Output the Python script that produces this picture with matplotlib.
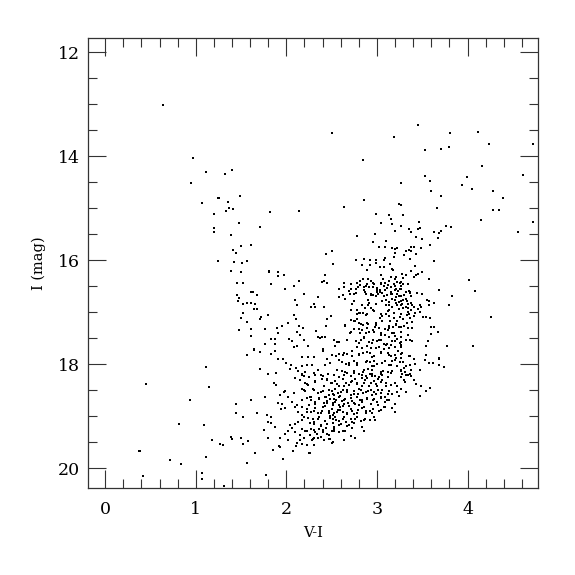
import matplotlib
matplotlib.use("Agg")
import matplotlib.pyplot as plt
from matplotlib.ticker import MultipleLocator

# (V-I, I) pairs, grouped by region of the CMD
bright_stars = [
    (0.635, 13.01), (0.97, 14.04), (1.11, 14.30), (1.40, 14.26), (1.325, 14.35), (0.945, 14.52),
    (1.25, 14.81), (1.26, 14.81), (1.49, 14.76),
    (2.507, 13.56), (3.19, 13.64), (2.85, 14.08),
    (3.45, 13.41), (3.81, 13.55), (4.12, 13.53), (3.53, 13.89), (3.71, 13.87), (3.80, 13.82),
    (4.24, 13.76), (4.72, 13.76), (4.16, 14.19), (3.53, 14.38), (3.585, 14.48), (3.26, 14.52),
    (3.99, 14.41), (4.61, 14.36), (3.94, 14.55), (4.05, 14.64), (3.60, 14.68), (3.71, 14.77),
    (4.28, 14.68), (4.39, 14.81),
]

blue_plume = [
    (1.074, 14.90), (1.36, 14.89), (1.37, 15.00), (1.41, 15.02), (1.33, 15.06), (1.20, 15.12),
    (1.48, 15.29), (1.20, 15.38), (1.20, 15.46), (1.385, 15.51), (1.50, 15.73), (1.41, 15.81),
    (1.44, 15.87), (1.245, 16.02), (1.42, 16.04), (1.51, 16.06), (1.57, 16.01), (1.39, 16.21),
    (1.50, 16.23), (1.46, 16.44), (1.52, 16.44), (1.45, 16.66), (1.48, 16.73), (1.47, 16.79),
    (1.52, 16.85), (1.57, 16.82), (1.525, 17.02), (1.50, 17.11), (1.57, 17.19), (1.48, 17.34),
    (1.565, 17.83), (1.11, 18.05), (0.45, 18.37), (1.145, 18.44), (0.94, 18.68), (1.44, 18.76),
    (1.44, 18.94), (1.52, 19.01), (0.82, 19.15), (1.09, 19.16), (1.18, 19.46), (1.27, 19.53),
    (1.30, 19.55), (1.385, 19.40), (1.40, 19.43), (1.50, 19.41), (1.52, 19.53), (1.58, 19.48),
    (0.37, 19.67), (0.38, 19.66), (1.115, 19.79), (0.71, 19.84), (0.835, 19.92), (1.57, 19.90),
    (0.42, 20.15), (1.07, 20.09), (1.065, 20.20), (1.31, 20.33),
    (1.78, 20.12), (1.65, 19.71), (1.85, 19.64), (1.92, 19.57), (1.93, 19.59), (1.96, 19.81),
    (2.07, 19.67), (2.11, 19.57),
]

red_branch = [
    (3.24, 14.92), (3.27, 14.94), (3.66, 14.99), (3.29, 15.14), (4.28, 15.04), (4.35, 15.03),
    (4.15, 15.22), (4.72, 15.27), (4.56, 15.45), (3.26, 15.34), (3.46, 15.26), (3.475, 15.38),
    (3.45, 15.40), (3.35, 15.40), (3.38, 15.46), (3.625, 15.45), (3.71, 15.43), (3.68, 15.48),
    (3.76, 15.34), (3.82, 15.37), (3.43, 15.56), (3.675, 15.58), (3.50, 15.60), (3.585, 15.71),
    (3.375, 15.74), (3.405, 15.74), (3.49, 15.77), (3.35, 15.81), (3.38, 15.83), (3.32, 15.83),
    (3.30, 15.90), (3.43, 15.88), (3.37, 15.98), (3.63, 16.01), (3.415, 16.11), (3.375, 16.21),
    (3.50, 16.22), (3.45, 16.26), (3.43, 16.29), (3.32, 16.28), (3.405, 16.32), (3.28, 16.26),
    (3.29, 16.35), (3.575, 16.36), (4.02, 16.38), (4.08, 16.60), (3.69, 16.57), (3.83, 16.68),
    (3.27, 16.42), (3.25, 16.43), (3.29, 16.46), (3.27, 16.55), (3.25, 16.56), (3.35, 16.59),
    (3.36, 16.62), (3.32, 16.62), (3.445, 16.63), (3.50, 16.64), (3.30, 16.67), (3.26, 16.68),
    (3.24, 16.69), (3.375, 16.69), (3.32, 16.74), (3.33, 16.78), (3.29, 16.76), (3.27, 16.78),
    (3.24, 16.80), (3.55, 16.77), (3.58, 16.78), (3.63, 16.82), (3.57, 16.86), (3.79, 16.86),
    (3.375, 16.83), (3.39, 16.86), (3.34, 16.85), (3.48, 16.87), (3.49, 16.89), (3.455, 16.93),
    (3.41, 16.89), (3.32, 16.90), (3.29, 16.91), (3.26, 16.86), (3.375, 16.95), (3.47, 17.00),
    (3.42, 17.02), (3.35, 17.04), (3.24, 16.93), (3.33, 17.06), (3.405, 17.08), (3.37, 17.11),
    (3.29, 17.13), (3.25, 17.09), (3.51, 17.10), (3.54, 17.09), (3.585, 17.11), (4.26, 17.10),
    (3.39, 17.19), (3.33, 17.20), (3.27, 17.28), (3.245, 17.28), (3.385, 17.31), (3.34, 17.30),
    (3.595, 17.28), (3.63, 17.28), (3.67, 17.38), (3.60, 17.42), (3.27, 17.48), (3.37, 17.53),
    (3.39, 17.55), (3.27, 17.58), (3.26, 17.62), (3.27, 17.67), (3.56, 17.56), (3.545, 17.65),
    (3.77, 17.65), (4.065, 17.65),
    (3.26, 17.81), (3.27, 17.87), (3.355, 17.85), (3.41, 17.89), (3.54, 17.83), (3.53, 17.91),
    (3.69, 17.87), (3.68, 17.90), (3.29, 17.96), (3.57, 17.97), (3.615, 17.97), (3.42, 17.99),
    (3.36, 18.02), (3.68, 18.02), (3.735, 18.06), (3.48, 18.10), (3.38, 18.11), (3.30, 18.07),
    (3.265, 18.11), (3.31, 18.15), (3.275, 18.19), (3.32, 18.20), (3.37, 18.19), (3.38, 18.23),
    (3.27, 18.25), (3.30, 18.31), (3.31, 18.34), (3.405, 18.31), (3.435, 18.37), (3.49, 18.42),
    (3.585, 18.45), (3.545, 18.52), (3.47, 18.60), (3.26, 18.48), (3.32, 18.54), (3.24, 18.60),
]

upper_middle = [
    (2.855, 14.84), (2.635, 14.97), (2.145, 15.05), (1.82, 15.08), (1.71, 15.36), (1.61, 15.71),
    (2.985, 15.12), (3.135, 15.13), (3.16, 15.20), (3.04, 15.29), (3.17, 15.31), (3.195, 15.44),
    (2.975, 15.50), (2.78, 15.53), (2.955, 15.65), (3.105, 15.64), (3.09, 15.74), (3.025, 15.74),
    (3.17, 15.77), (3.20, 15.79), (3.225, 15.77), (2.50, 15.82), (2.44, 15.89), (3.20, 15.87),
    (3.19, 15.94), (3.09, 15.96), (3.075, 16.00), (2.77, 16.00), (2.86, 15.98), (2.92, 16.00),
    (2.995, 16.00), (2.99, 16.05), (2.83, 16.10), (2.92, 16.10), (2.89, 16.18), (3.14, 16.07),
    (3.17, 16.16), (3.18, 16.19), (3.03, 16.13), (3.075, 16.13), (2.52, 16.07), (1.81, 16.20),
    (1.81, 16.23), (1.91, 16.23), (1.91, 16.31), (1.97, 16.28), (2.425, 16.28), (2.415, 16.40),
    (2.45, 16.44), (2.39, 16.42), (2.135, 16.40), (1.835, 16.45), (1.61, 16.62), (1.63, 16.62),
    (1.68, 16.67), (1.99, 16.55), (2.08, 16.50), (2.19, 16.64), (2.345, 16.70), (2.58, 16.55),
    (2.58, 16.71), (2.635, 16.51), (2.71, 16.56), (2.63, 16.67), (2.70, 16.65), (2.75, 16.64),
    (2.77, 16.55), (2.79, 16.51), (2.815, 16.47), (2.81, 16.40), (2.845, 16.37), (2.90, 16.36),
    (2.885, 16.45), (2.86, 16.52), (2.865, 16.62), (2.88, 16.65), (2.90, 16.76), (2.91, 16.52),
    (2.93, 16.40), (2.96, 16.44), (2.955, 16.51), (3.00, 16.53), (3.00, 16.58), (3.03, 16.57),
    (3.03, 16.62), (3.015, 16.65), (2.99, 16.69), (2.955, 16.67), (2.93, 16.64), (3.04, 16.29),
    (3.07, 16.37), (3.05, 16.45), (3.075, 16.49), (3.09, 16.43), (3.13, 16.40), (3.16, 16.32),
    (3.195, 16.37), (3.215, 16.32), (3.225, 16.42), (3.195, 16.49), (3.16, 16.52), (3.11, 16.53),
    (3.09, 16.58), (3.055, 16.63), (3.075, 16.69), (3.105, 16.76), (3.115, 16.66), (3.15, 16.61),
    (3.17, 16.65), (3.20, 16.58), (3.215, 16.55), (3.225, 16.64), (3.205, 16.70), (3.17, 16.74),
    (3.135, 16.81), (3.10, 16.87), (3.195, 16.76), (3.225, 16.86), (3.17, 16.89), (3.135, 16.95),
    (1.61, 16.82), (1.655, 16.84), (1.645, 16.93), (1.68, 16.93), (1.705, 17.13), (1.72, 17.09),
    (1.795, 17.06), (1.61, 17.32), (1.61, 17.45), (1.765, 17.33), (1.895, 17.30), (1.95, 17.27),
    (1.91, 17.39), (1.835, 17.52), (1.875, 17.52), (1.87, 17.61), (1.765, 17.61), (1.64, 17.71),
    (2.02, 17.21), (2.08, 17.05), (2.11, 17.13), (2.10, 16.76), (2.115, 16.86), (2.30, 16.84),
    (2.275, 16.89), (2.32, 16.89), (2.42, 16.90), (2.495, 17.07), (2.45, 17.13), (2.14, 17.27),
    (2.18, 17.31), (2.115, 17.38), (2.15, 17.43), (2.19, 17.53), (2.03, 17.52), (2.06, 17.56),
    (2.08, 17.66), (2.12, 17.65), (2.24, 17.64), (2.33, 17.36), (2.35, 17.47), (2.375, 17.50),
    (2.39, 17.47), (2.43, 17.48), (2.525, 17.54), (2.56, 17.57), (2.58, 17.57), (2.535, 17.64),
    (2.40, 17.71), (2.44, 17.26), (2.65, 17.26), (2.70, 17.40), (2.75, 17.33), (2.76, 17.17),
    (2.715, 17.15), (2.78, 17.04), (2.78, 17.13), (2.73, 16.84), (2.775, 16.96), (2.815, 17.01),
    (2.85, 17.01), (2.88, 17.05), (2.83, 16.87), (2.87, 16.92), (2.905, 16.87), (2.93, 16.92),
    (2.955, 16.96), (2.80, 17.20), (2.85, 17.24), (2.90, 17.22), (2.885, 17.31), (2.84, 17.34),
    (2.81, 17.40), (2.915, 17.38), (2.955, 17.35), (2.98, 17.28), (3.02, 17.31), (2.99, 17.20),
    (3.03, 17.12), (3.06, 17.08), (3.10, 17.04), (3.13, 17.08), (3.145, 17.16), (3.19, 17.12),
    (3.225, 17.16), (3.21, 17.24), (3.175, 17.28), (3.13, 17.30), (3.085, 17.32), (3.05, 17.39),
    (3.09, 17.44), (3.13, 17.48), (3.17, 17.40), (3.20, 17.45), (3.225, 17.51), (3.195, 17.56),
    (3.155, 17.62), (3.115, 17.61), (3.075, 17.61), (3.04, 17.53), (3.00, 17.56), (2.96, 17.53),
    (2.915, 17.58), (2.89, 17.65), (2.93, 17.69), (2.985, 17.68), (3.02, 17.67), (3.075, 17.70),
    (3.13, 17.69), (3.20, 17.66), (2.855, 17.48), (2.82, 17.53), (2.80, 17.60), (2.835, 17.69),
    (2.78, 17.66),
]

main_clump = [
    (1.64, 17.73), (1.71, 17.77), (1.83, 17.81), (1.87, 17.74), (2.40, 17.74), (2.50, 17.83),
    (2.58, 17.81), (2.62, 17.83), (2.67, 17.81), (2.72, 17.85), (2.80, 17.81), (2.85, 17.79),
    (2.92, 17.78), (2.95, 17.86), (3.05, 17.77), (3.12, 17.78), (3.15, 17.85), (3.20, 17.83),
    (3.23, 17.75),
    (1.91, 17.90), (1.96, 17.89), (2.00, 17.97), (2.17, 17.86), (2.24, 17.86), (2.30, 17.86),
    (2.45, 17.90), (2.55, 17.85), (2.58, 17.92), (2.61, 17.96), (2.66, 17.99), (2.69, 18.01),
    (2.75, 17.94), (2.78, 17.97), (2.89, 17.94), (2.92, 17.96), (2.94, 18.03), (2.97, 17.93),
    (3.00, 17.99), (3.06, 17.97), (3.09, 17.94), (3.13, 18.01), (3.17, 17.94), (3.20, 17.91),
    (2.05, 18.01), (2.11, 18.07), (2.17, 18.04), (2.23, 18.01), (2.28, 18.01), (2.43, 18.01),
    (2.48, 17.97),
    (1.71, 18.09), (1.80, 18.18), (1.89, 18.17), (2.04, 18.09), (2.13, 18.13), (2.17, 18.18),
    (2.19, 18.23), (2.21, 18.15), (2.30, 18.17), (2.35, 18.10), (2.38, 18.20), (2.46, 18.18),
    (2.56, 18.10), (2.61, 18.12), (2.67, 18.17), (2.71, 18.22), (2.75, 18.12), (2.80, 18.18),
    (2.85, 18.15), (2.90, 18.09), (2.92, 18.18), (2.95, 18.10), (2.98, 18.22), (3.04, 18.18),
    (3.07, 18.13), (3.12, 18.15), (3.17, 18.12), (3.22, 18.04), (2.88, 18.23), (3.02, 18.24),
    (2.83, 18.26),
    (1.86, 18.36), (1.89, 18.39), (2.10, 18.26), (2.15, 18.30), (2.21, 18.36), (2.24, 18.39),
    (2.32, 18.33), (2.39, 18.28), (2.45, 18.31), (2.50, 18.36), (2.54, 18.33), (2.58, 18.41),
    (2.62, 18.28), (2.66, 18.36), (2.69, 18.39), (2.73, 18.33), (2.78, 18.36), (2.83, 18.42),
    (2.87, 18.31), (2.93, 18.36), (2.97, 18.33), (3.00, 18.41), (3.06, 18.31), (3.10, 18.36),
    (3.15, 18.39), (3.20, 18.35), (3.22, 18.42),
    (1.93, 18.59), (1.97, 18.54), (1.99, 18.52), (2.02, 18.62), (2.08, 18.55), (2.17, 18.48),
    (2.21, 18.52), (2.26, 18.62), (2.30, 18.49), (2.35, 18.55), (2.40, 18.52), (2.44, 18.62),
    (2.47, 18.59), (2.50, 18.52), (2.53, 18.59), (2.57, 18.55), (2.59, 18.61), (2.63, 18.49),
    (2.67, 18.54), (2.71, 18.59), (2.75, 18.52), (2.79, 18.57), (2.82, 18.49), (2.85, 18.55),
    (2.90, 18.52), (2.94, 18.59), (2.97, 18.54), (3.01, 18.50), (3.05, 18.55), (3.09, 18.62),
    (3.13, 18.52), (3.17, 18.57), (3.22, 18.54), (1.61, 18.68), (1.76, 18.62),
    (1.91, 18.75), (1.95, 18.76), (2.06, 18.73), (2.12, 18.78), (2.17, 18.68), (2.23, 18.65),
    (2.27, 18.68), (2.32, 18.73), (2.36, 18.65), (2.41, 18.75), (2.45, 18.71), (2.48, 18.67),
    (2.52, 18.75), (2.55, 18.68), (2.58, 18.78), (2.61, 18.71), (2.65, 18.67), (2.68, 18.75),
    (2.72, 18.71), (2.76, 18.76), (2.81, 18.68), (2.84, 18.73), (2.89, 18.67), (2.93, 18.76),
    (2.96, 18.68), (3.00, 18.73), (3.04, 18.65), (3.09, 18.73), (3.13, 18.68), (3.20, 18.76),
    (1.68, 18.94),
    (1.94, 18.85), (1.98, 18.84), (2.10, 18.82), (2.13, 18.91), (2.17, 18.97), (2.23, 18.86),
    (2.27, 18.91), (2.32, 18.84), (2.35, 18.94), (2.39, 18.89), (2.43, 18.81), (2.47, 18.93),
    (2.50, 18.86), (2.52, 18.97), (2.56, 18.91), (2.59, 18.88), (2.63, 18.81), (2.67, 18.93),
    (2.71, 18.86), (2.75, 18.95), (2.79, 18.88), (2.83, 18.84), (2.88, 18.94), (2.92, 18.89),
    (2.96, 18.86), (3.04, 18.88), (3.09, 18.82), (3.17, 18.84), (3.20, 18.91), (1.79, 18.97),
    (1.83, 19.01),
    (1.83, 19.12), (1.88, 19.21), (2.04, 19.17), (2.10, 19.15), (2.13, 19.10), (2.17, 19.07),
    (2.24, 19.04), (2.26, 19.12), (2.31, 19.10), (2.35, 19.06), (2.38, 19.17), (2.43, 19.08),
    (2.48, 19.04), (2.52, 19.12), (2.55, 19.07), (2.58, 19.17), (2.62, 19.06), (2.66, 19.10),
    (2.69, 19.17), (2.72, 19.10), (2.76, 19.06), (2.82, 19.08), (2.87, 19.06), (2.92, 19.07),
    (2.98, 19.07), (1.80, 19.10),
    (1.75, 19.26), (1.98, 19.33), (2.02, 19.28), (2.06, 19.23), (2.10, 19.30), (2.15, 19.36),
    (2.17, 19.25), (2.23, 19.28), (2.26, 19.36), (2.30, 19.26), (2.34, 19.33), (2.36, 19.25),
    (2.40, 19.30), (2.44, 19.23), (2.47, 19.36), (2.50, 19.28), (2.53, 19.25), (2.58, 19.30),
    (2.65, 19.28), (2.72, 19.23), (2.86, 19.28), (2.76, 19.42), (1.80, 19.42), (1.93, 19.42),
    (2.02, 19.46), (2.12, 19.51), (2.15, 19.46), (2.19, 19.42), (2.23, 19.55), (2.28, 19.46),
    (2.31, 19.41), (2.35, 19.41), (2.41, 19.46), (2.48, 19.44), (2.50, 19.52), (2.26, 19.70),
]

dense_core = [
    (2.17, 18.21), (2.25, 18.24), (2.32, 18.20), (2.40, 18.23), (2.45, 18.28), (2.53, 18.21),
    (2.58, 18.24), (2.64, 18.20), (2.71, 18.23), (2.76, 18.28), (2.84, 18.21), (2.89, 18.26),
    (2.95, 18.23), (3.01, 18.28), (3.06, 18.21), (3.12, 18.24),
    (2.23, 18.37), (2.32, 18.34), (2.41, 18.41), (2.49, 18.36), (2.56, 18.37), (2.64, 18.41),
    (2.71, 18.34), (2.78, 18.37), (2.86, 18.36), (2.91, 18.41), (2.99, 18.37), (3.04, 18.34),
    (3.10, 18.41),
    (2.19, 18.50), (2.29, 18.47), (2.38, 18.53), (2.47, 18.50), (2.51, 18.57), (2.54, 18.47),
    (2.60, 18.53), (2.67, 18.50), (2.75, 18.57), (2.80, 18.47), (2.88, 18.53), (2.93, 18.50),
    (2.99, 18.57), (3.06, 18.50), (3.12, 18.57),
    (2.27, 18.63), (2.36, 18.66), (2.43, 18.63), (2.53, 18.66), (2.58, 18.62), (2.64, 18.68),
    (2.71, 18.64), (2.78, 18.63), (2.84, 18.68), (2.89, 18.64), (2.97, 18.66), (3.04, 18.63),
    (3.11, 18.68),
    (2.17, 18.82), (2.25, 18.79), (2.32, 18.76), (2.40, 18.82), (2.45, 18.75), (2.51, 18.79),
    (2.54, 18.73), (2.59, 18.82), (2.64, 18.76), (2.69, 18.81), (2.75, 18.75), (2.80, 18.79),
    (2.86, 18.82), (2.93, 18.76), (3.01, 18.79), (3.08, 18.82),
    (2.23, 18.92), (2.30, 18.89), (2.38, 18.94), (2.47, 18.90), (2.53, 18.94), (2.57, 18.88),
    (2.62, 18.92), (2.67, 18.95), (2.73, 18.89), (2.78, 18.94), (2.88, 18.90), (2.95, 18.94),
    (3.02, 18.89),
    (2.19, 19.02), (2.29, 19.05), (2.36, 19.01), (2.43, 19.08), (2.48, 18.99), (2.51, 19.05),
    (2.54, 19.02), (2.58, 19.08), (2.64, 19.01), (2.71, 19.05), (2.78, 19.02), (2.86, 19.07),
    (2.97, 19.02),
    (2.30, 19.15), (2.38, 19.18), (2.45, 19.15), (2.53, 19.20), (2.60, 19.15), (2.67, 19.18),
    (2.75, 19.13), (2.84, 19.21),
    (2.21, 19.28), (2.27, 19.24), (2.32, 19.31), (2.40, 19.26), (2.45, 19.33), (2.53, 19.29),
    (2.62, 19.28), (2.71, 19.37), (2.86, 19.28),
    (2.19, 19.41), (2.29, 19.44), (2.38, 19.39), (2.47, 19.44), (2.64, 19.46), (2.76, 19.42),
    (2.17, 19.53), (2.30, 19.55), (2.51, 19.50), (2.25, 19.70),
]

dense_upper = [
    (2.64, 16.43), (2.71, 16.46), (2.78, 16.43), (2.88, 16.50), (2.97, 16.45), (3.04, 16.43),
    (3.12, 16.48), (3.19, 16.45), (3.26, 16.50), (3.34, 16.46),
    (2.69, 16.59), (2.77, 16.63), (2.86, 16.58), (2.93, 16.66), (3.00, 16.61), (3.08, 16.69),
    (3.15, 16.65), (3.23, 16.59), (3.30, 16.67), (3.36, 16.63),
    (2.65, 16.75), (2.75, 16.79), (2.91, 16.82), (2.99, 16.85), (3.06, 16.79), (3.13, 16.86),
    (3.21, 16.82), (3.28, 16.85), (3.34, 16.92),
    (2.71, 16.95), (2.80, 17.01), (2.89, 17.04), (2.97, 16.98), (3.04, 17.03), (3.12, 16.97),
    (3.19, 17.01), (3.26, 17.04), (3.34, 16.99),
    (2.65, 17.24), (2.75, 17.17), (2.82, 17.23), (2.89, 17.21), (2.99, 17.24), (3.06, 17.17),
    (3.13, 17.27), (3.21, 17.23), (3.30, 17.27),
    (2.71, 17.37), (2.80, 17.33), (2.88, 17.40), (2.97, 17.37), (3.04, 17.43), (3.12, 17.35),
    (3.19, 17.40), (3.26, 17.37), (3.34, 17.43),
    (2.67, 17.53), (2.77, 17.56), (2.86, 17.50), (2.95, 17.59), (3.02, 17.53), (3.10, 17.63),
    (3.17, 17.56), (3.25, 17.59), (3.32, 17.53),
    (2.64, 17.79), (2.73, 17.75), (2.80, 17.82), (2.89, 17.77), (2.97, 17.85), (3.04, 17.79),
    (3.13, 17.82), (3.21, 17.88), (3.28, 17.79), (3.36, 17.85),
    (2.69, 17.98), (2.78, 18.01), (2.88, 17.95), (2.97, 18.04), (3.06, 17.98), (3.15, 18.01),
    (3.25, 17.95), (3.32, 18.04),
    (2.65, 18.14), (2.75, 18.17), (2.86, 18.11), (2.95, 18.19), (3.04, 18.14), (3.15, 18.17),
    (3.26, 18.13), (3.34, 18.21),
]

x_ticks = [0, 1, 2, 3, 4]
y_ticks = [12, 14, 16, 18, 20]

plt.rcParams['font.family'] = ['DejaVu Serif']
fig = plt.figure(figsize=(5.75, 5.75), dpi=100)
ax = fig.add_axes([0.153, 0.151, 0.783, 0.783])

for group in (bright_stars, blue_plume, red_branch, upper_middle, main_clump,
              dense_core, dense_upper):
    vi, imag = zip(*group)
    ax.plot(vi, imag, linestyle='none', marker='s', markersize=1.5,
            markeredgewidth=0, color='black')

ax.set_xlim(-0.19, 4.78)
ax.set_ylim(20.38, 11.73)
ax.set_xticks(x_ticks)
ax.set_yticks(y_ticks)
ax.xaxis.set_minor_locator(MultipleLocator(0.2))
ax.yaxis.set_minor_locator(MultipleLocator(0.5))
ax.tick_params(which='both', direction='in', top=True, right=True,
               width=0.8, color='#333333', labelsize=12.5)
ax.tick_params(which='major', length=13)
ax.tick_params(which='minor', length=6.5)
ax.tick_params(axis='x', which='major', pad=9)
ax.tick_params(axis='y', which='major', pad=6)
for s in ax.spines.values():
    s.set_linewidth(0.9)
    s.set_color('#333333')

ax.set_xlabel('V-I', fontsize=10.5, labelpad=6)
ax.set_ylabel('I (mag)', fontsize=10.5, labelpad=8)

fig.savefig('out.png', dpi=100)
